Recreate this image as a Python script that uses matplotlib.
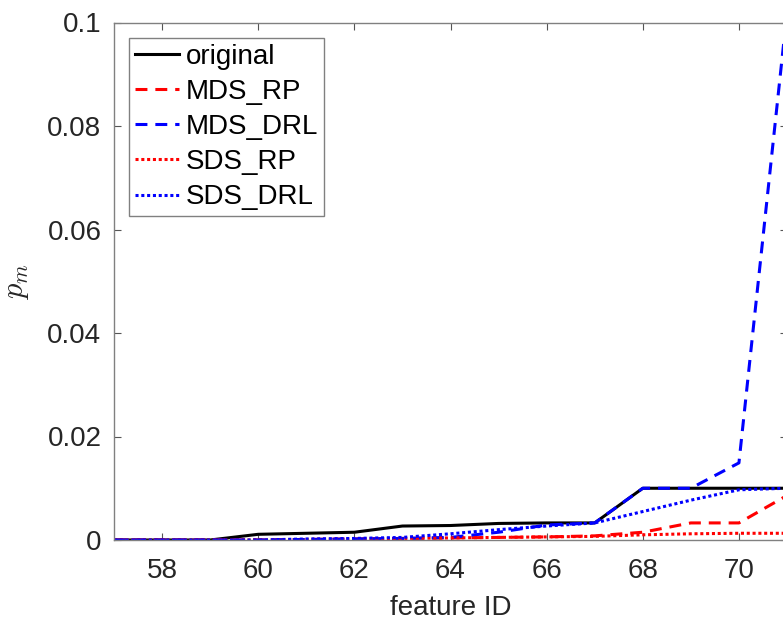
import matplotlib
matplotlib.use("Agg")
import matplotlib.pyplot as plt
import numpy as np

# feature IDs on the x axis
feature_id = np.arange(57, 72)

# p_m per feature for each method
original = [0, 0, 0, 0.0011, 0.0013, 0.0015, 0.0027, 0.0028, 0.0032, 0.0033,
            0.0033, 0.01, 0.01, 0.01, 0.01]
mds_rp = [0, 0, 0, 0, 0.0001, 0.0002, 0.0003, 0.0004, 0.0005, 0.0006,
          0.0008, 0.0015, 0.0033, 0.0033, 0.0086]
mds_drl = [0, 0, 0, 0, 0.0001, 0.0002, 0.0003, 0.0005, 0.0015, 0.0029,
           0.0033, 0.01, 0.01, 0.0149, 0.102]
sds_rp = [0, 0, 0, 0, 0.0001, 0.0002, 0.0003, 0.0004, 0.0005, 0.0006,
          0.0007, 0.001, 0.0012, 0.0013, 0.0013]
sds_drl = [0, 0, 0, 0, 0.0002, 0.0003, 0.0005, 0.0012, 0.002, 0.0027,
           0.0033, 0.0055, 0.0077, 0.0097, 0.01]

x_ticks = [58, 60, 62, 64, 66, 68, 70]
y_ticks = [0, 0.02, 0.04, 0.06, 0.08, 0.1]
y_ticklabels = ["0", "0.02", "0.04", "0.06", "0.08", "0.1"]

plt.rcParams["font.family"] = ["Liberation Sans", "DejaVu Sans"]
plt.rcParams["mathtext.fontset"] = "cm"

W, H = 783, 623
fig = plt.figure(figsize=(W / 100, H / 100), dpi=100)
left, right, bottom, top = 114, 787, 540, 22.5
ax = fig.add_axes([left / W, 1 - bottom / H, (right - left) / W, (bottom - top) / H])

lw = 2.2
dash = (0, (3.9, 2.6))
dot = (0, (1.0, 0.9))
ax.plot(feature_id, original, color="black", lw=lw, label="original")
ax.plot(feature_id, mds_rp, color="#ff0000", lw=lw, ls=dash, label="MDS_RP")
ax.plot(feature_id, mds_drl, color="#0000ff", lw=lw, ls=dash, label="MDS_DRL")
ax.plot(feature_id, sds_rp, color="#ff0000", lw=lw, ls=dot, label="SDS_RP")
ax.plot(feature_id, sds_drl, color="#0000ff", lw=lw, ls=dot, label="SDS_DRL")

ax.set_xlim(57, 71)
ax.set_ylim(0, 0.1)
ax.set_xticks(x_ticks)
ax.set_yticks(y_ticks)
ax.set_yticklabels(y_ticklabels)

for s in ax.spines.values():
    s.set_color("#808080")
    s.set_linewidth(1.0)
ax.tick_params(direction="in", length=5, width=0.8, color="#555555",
               top=True, right=True, labelsize=20, labelcolor="#262626")
ax.tick_params(axis="x", pad=13)
ax.tick_params(axis="y", pad=9)

ax.set_xlabel("feature ID", fontsize=20, color="#262626", labelpad=8)
ax.set_ylabel(r"$p_m$", fontsize=22, color="#262626", labelpad=12)

leg = ax.legend(loc="upper left", bbox_to_anchor=(129 / W, 1 - 38 / H),
                bbox_transform=fig.transFigure, borderaxespad=0,
                fontsize=20, handlelength=1.6, handletextpad=0.25,
                borderpad=0.2, labelspacing=0.33, fancybox=False,
                framealpha=1, edgecolor="#808080")
leg.get_frame().set_linewidth(1.0)
for t in leg.get_texts():
    t.set_color("black")

fig.savefig("out.png", dpi=100)
